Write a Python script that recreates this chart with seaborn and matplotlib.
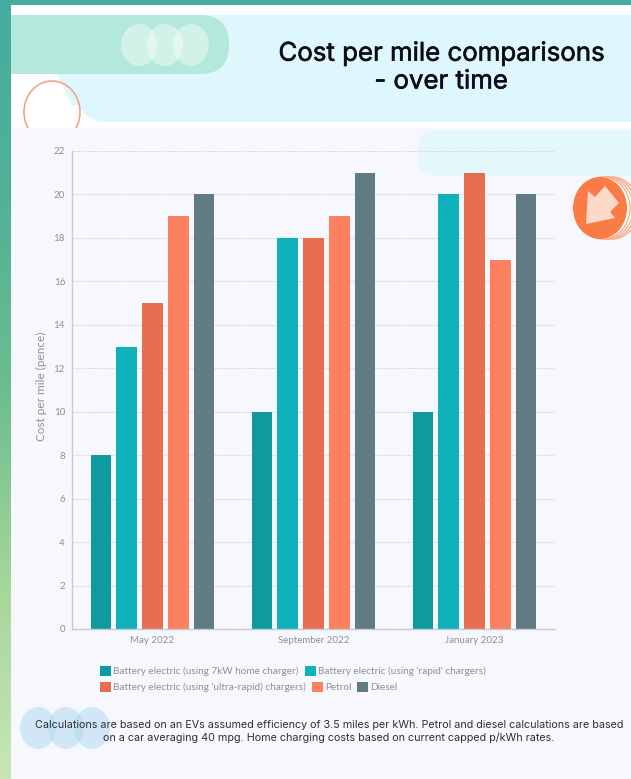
import numpy as np
import pandas as pd
import matplotlib
matplotlib.use("Agg")
import matplotlib.pyplot as plt
import matplotlib.patheffects as pe
from matplotlib.patches import Ellipse, FancyBboxPatch, Rectangle, Polygon
from matplotlib.colors import LinearSegmentedColormap
import seaborn as sns

periods = ["May 2022", "September 2022", "January 2023"]
series_names = ["Battery electric (using 7kW home charger)",
                "Battery electric (using 'rapid' chargers)",
                "Battery electric (using 'ultra-rapid) chargers)",
                "Petrol", "Diesel"]
home_7kw = [8, 10, 10]
rapid = [13, 18, 20]
ultra_rapid = [15, 18, 21]
petrol = [19, 19, 17]
diesel = [20, 21, 20]
colors = ["#0F9AA0", "#0FB2BB", "#E76F4F", "#FD8060", "#607B82"]
yticks = list(range(0, 24, 2))

W, H = 631, 779
sns.set_theme(style="white")
plt.rcParams["font.family"] = ["Lato", "DejaVu Sans"]

df = pd.DataFrame({"period": periods * 5,
                   "series": np.repeat(series_names, 3),
                   "value": home_7kw + rapid + ultra_rapid + petrol + diesel})

fig = plt.figure(figsize=(W / 100, H / 100), dpi=100, facecolor="#F7F8FE")

# page decoration in pixel space
bg = fig.add_axes([0, 0, 1, 1], zorder=0)
bg.set_xlim(0, W); bg.set_ylim(H, 0); bg.axis("off")
bg.add_patch(Rectangle((0, 0), W, 128, fc="#FDFEFF", ec="none"))
bg.add_patch(Ellipse((52, 112), 56, 62, fc="#FFFFFF", ec="none"))
bg.add_patch(FancyBboxPatch((90, 15), 700, 107, boxstyle="round,pad=0,rounding_size=16", fc="#DDF7FC", ec="none"))
bg.add_patch(Polygon([[57, 74], [110, 74], [110, 122], [98, 122], [86, 115], [78, 105], [72, 105]],
                     fc="#DDF7FC", ec="none"))
bg.add_patch(Ellipse((52, 112), 56, 62, fc="none", ec="#F2A48C", lw=1.2))
bg.add_patch(Rectangle((11, 128), W, 30, fc="#F7F8FE", ec="none"))
bg.add_patch(FancyBboxPatch((-40, 15), 269, 59, boxstyle="round,pad=0,rounding_size=29", fc="#B3E8DA", ec="none"))
for cx in (139, 165, 191):
    bg.add_patch(Ellipse((cx, 45), 36, 42, fc="#FFFFFF", alpha=0.42, ec="none"))
bg.add_patch(FancyBboxPatch((418, 130), 400, 46, boxstyle="round,pad=0,rounding_size=18", fc="#E3F7FC", ec="none"))
for dx in (12, 9, 6, 3):
    bg.add_patch(Ellipse((600 + dx, 208), 54, 62, fc="#FDFEFF", ec="#F9A98A", lw=0.9))
bg.add_patch(Ellipse((600, 208), 54, 62, fc="#FB7B47", ec="none"))
bg.add_patch(Polygon([[588, 191], [595, 197], [605, 186], [619, 203], [610, 212], [615, 218], [586, 224]],
                     fc="#FCD9C8", ec="none"))
for cx in (38, 66, 92):
    bg.add_patch(Ellipse((cx, 728), 36, 42, fc="#B5D9F0", alpha=0.55, ec="none"))
grad = LinearSegmentedColormap.from_list("strip", ["#46ACA0", "#50B296", "#6CBD8E", "#A5D69A", "#C8E6B4"])
bg.imshow(np.linspace(0, 1, 256).reshape(-1, 1), cmap=grad, extent=(0, 11, H, 0), aspect="auto", zorder=5)
bg.add_patch(Rectangle((0, 0), W, 5, fc="#47ABA0", ec="none", zorder=5))
bg.set_xlim(0, W); bg.set_ylim(H, 0)

# chart
ax = fig.add_axes([72 / W, 1 - 629 / H, 483 / W, 478 / H], zorder=1)
ax.patch.set_alpha(0)
sns.barplot(data=df, x="period", y="value", hue="series", hue_order=series_names,
            order=periods, palette=colors, width=0.8, gap=0.2, saturation=1,
            legend=False, linewidth=0, ax=ax)
ax.set_ylim(0, 22)
ax.set_yticks(yticks)
ax.set_xlabel("")
ax.set_ylabel("Cost per mile (pence)", fontsize=8.5, color="#8C8F9C", labelpad=5, y=0.508)
ax.tick_params(axis="both", length=0, labelsize=7, labelcolor="#8C8F9C", pad=5)
ax.set_axisbelow(True)
ax.grid(axis="y", color="#CDD0DC", lw=0.8, ls=(0, (1, 1)))
ax.grid(axis="x", visible=False)
for s in ("top", "right"):
    ax.spines[s].set_visible(False)
for s in ("left", "bottom"):
    ax.spines[s].set_color("#C5C8D8")
    ax.spines[s].set_linewidth(1)

# two-row legend
handles = [Rectangle((0, 0), 1, 1, fc=c, ec="none") for c in colors]
leg_kw = dict(frameon=False, fontsize=7.2, labelcolor="#8C8F9C", handlelength=1.1, handleheight=1.1,
              handletextpad=0.2, columnspacing=0.6, borderpad=0, borderaxespad=0, loc="center left")
fig.legend(handles[:2], series_names[:2], ncol=2, bbox_to_anchor=(100 / W, 1 - 671 / H), **leg_kw)
fig.legend(handles[2:], series_names[2:], ncol=3, bbox_to_anchor=(100 / W, 1 - 687 / H), **leg_kw)

# text
bold = [pe.withStroke(linewidth=0.4, foreground="#0C0C14")]
fig.text(441 / W, 1 - 54 / H, "Cost per mile comparisons", ha="center", va="center",
         fontsize=18.6, family="Inter", color="#0C0C14", zorder=3, path_effects=bold)
fig.text(441 / W, 1 - 82 / H, "- over time", ha="center", va="center",
         fontsize=18.6, family="Inter", color="#0C0C14", zorder=3, path_effects=bold)
fig.text(329 / W, 1 - 725 / H, "Calculations are based on an EVs assumed efficiency of 3.5 miles per kWh. Petrol and diesel calculations are based",
         ha="center", va="center", fontsize=7.75, family="Inter", color="#2E2E3A", zorder=3)
fig.text(329 / W, 1 - 738 / H, "on a car averaging 40 mpg. Home charging costs based on current capped p/kWh rates.",
         ha="center", va="center", fontsize=7.75, family="Inter", color="#2E2E3A", zorder=3)

fig.savefig("out.png", dpi=100, facecolor=fig.get_facecolor())
